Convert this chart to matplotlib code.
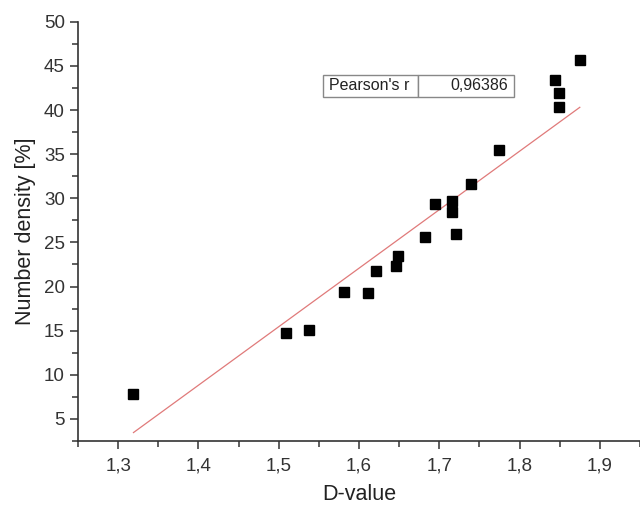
import matplotlib
matplotlib.use("Agg")
import matplotlib.pyplot as plt
import matplotlib.ticker as mticker
import numpy as np

plt.rcParams['font.family'] = ['Liberation Sans', 'DejaVu Sans']

# values
d_value = [1.319, 1.509, 1.5375, 1.581, 1.611, 1.621, 1.646, 1.648, 1.6825,
           1.695, 1.716, 1.716, 1.721, 1.739, 1.774, 1.844, 1.849, 1.849, 1.875]
density = [7.8, 14.7, 15.1, 19.4, 19.3, 21.8, 22.3, 23.5, 25.6,
           29.4, 29.7, 28.5, 26.0, 31.6, 35.5, 43.4, 41.9, 40.4, 45.7]
# linear fit as drawn in the reference
fit_slope = 66.3
fit_intercept = -84.0
pearson_r = "0,96386"

x = np.array(d_value)
y = np.array(density)
xf = np.array([x.min(), x.max()])

fig = plt.figure(figsize=(6.4, 5.08), dpi=100)
ax = fig.add_axes([0.122, 0.132, 0.878, 0.825])

ax.plot(xf, fit_slope * xf + fit_intercept, color='#e07a7a', lw=0.9, zorder=2)
ax.plot(x, y, 's', color='black', ms=7, zorder=3)

ax.set_xlim(1.25, 1.95)
ax.set_ylim(2.5, 50)
ax.xaxis.set_major_locator(mticker.MultipleLocator(0.1))
ax.xaxis.set_minor_locator(mticker.MultipleLocator(0.05))
ax.yaxis.set_major_locator(mticker.MultipleLocator(5))
ax.yaxis.set_minor_locator(mticker.MultipleLocator(2.5))
ax.xaxis.set_major_formatter(mticker.FuncFormatter(lambda v, p: f"{v:.1f}".replace('.', ',')))
ax.yaxis.set_major_formatter(mticker.FuncFormatter(lambda v, p: f"{v:.0f}"))

for s in ['top', 'right']:
    ax.spines[s].set_visible(False)
for s in ['left', 'bottom']:
    ax.spines[s].set_color('#333333')
    ax.spines[s].set_linewidth(1.2)
ax.tick_params(which='major', direction='out', length=6, width=1.1, colors='#333333',
               labelsize=13.5, labelcolor='#333333')
ax.tick_params(which='minor', direction='out', length=4, width=1.1, colors='#333333')
ax.tick_params(axis='x', pad=6)

ax.set_xlabel("D-value", fontsize=15.5, color='#222222', labelpad=7)
ax.set_ylabel("Number density [%]", fontsize=15.5, color='#222222', labelpad=6)

tbl = ax.table(cellText=[["Pearson's r", pearson_r]], cellLoc='center',
               bbox=[0.436, 0.821, 0.34, 0.052])
tbl.auto_set_font_size(False)
for (r, c), cell in tbl.get_celld().items():
    cell.set_edgecolor('#888888')
    cell.set_linewidth(1.0)
    cell.PAD = 0.06
    cell.get_text().set_fontsize(11.5)
    cell.get_text().set_color('#222222')
tbl[0, 0].set_width(0.169)
tbl[0, 1].set_width(0.171)
tbl[0, 0].get_text().set_ha('left')
tbl[0, 1].get_text().set_ha('right')

fig.savefig("out.png", dpi=100)
